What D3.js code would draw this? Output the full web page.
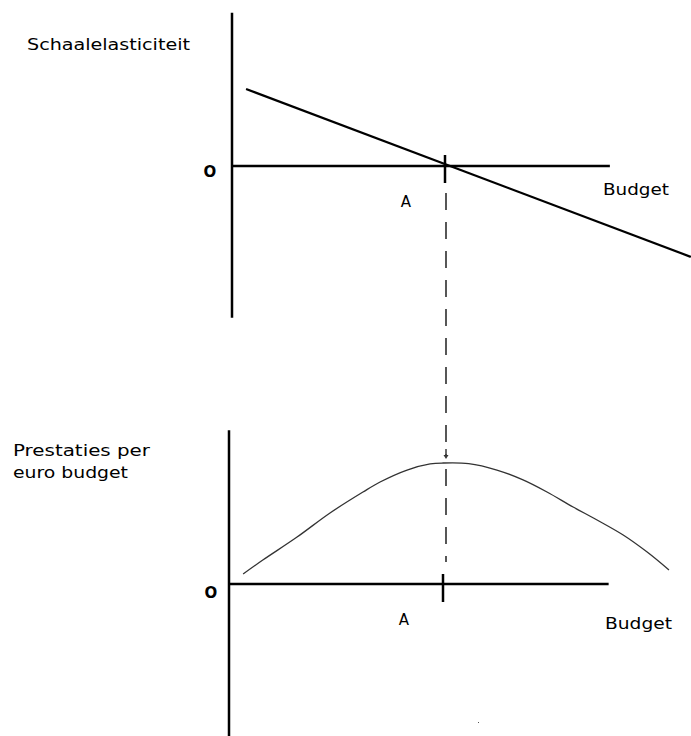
<!DOCTYPE html>
<html>
<head>
<meta charset="utf-8">
<script src="https://cdn.jsdelivr.net/npm/d3@7"></script>
<style>
  html, body { margin: 0; padding: 0; background: #fff; }
  svg { display: block; }
  text { font-family: "DejaVu Sans", sans-serif; fill: #000; }
</style>
</head>
<body>
<svg id="chart" width="691" height="736"></svg>
<script>
// ---- data (budget units: point A = 50) ----
const pointA = 50;
const budgetAxisEnd = 88.7;

// Top panel: scale elasticity, straight falling line
const elasticityBudget = [3.3, 107.7];
const elasticityValues = [1.0, -1.18];

// Bottom panel: performance per euro budget (hump, peak at A)
const perfBudget = [3.3, 7.9, 15.9, 23.6, 31.3, 35.3, 41.6, 47.0, 50.0, 56.0, 62.6, 68.7, 74.3, 80.4, 86.0, 92.1, 97.7, 102.8];
const perfValues = [0.083, 0.198, 0.388, 0.587, 0.760, 0.843, 0.942, 0.992, 1.0, 0.995, 0.942, 0.860, 0.760, 0.636, 0.529, 0.405, 0.264, 0.116];

const labelTopY = "Schaalelasticiteit";
const labelBottomY = ["Prestaties per", "euro budget"];
const labelX = "Budget";
const labelOrigin = "O";
const labelA = "A";

// ---- scales ----
const svg = d3.select("#chart");

const xTop = d3.scaleLinear().domain([0, 50]).range([232, 445]);
const yTop = d3.scaleLinear().domain([0, 1]).range([166, 89]);
const yTopAxisDomain = [1.99, -1.97];

const xBot = d3.scaleLinear().domain([0, 50]).range([229, 443]);
const yBot = d3.scaleLinear().domain([0, 1]).range([584, 463]);
const yBotAxisDomain = [1.27, -1.26];

// ---- top panel ----
const gTop = svg.append("g");
gTop.append("line")
  .attr("x1", xTop(0)).attr("x2", xTop(0))
  .attr("y1", yTop(yTopAxisDomain[0])).attr("y2", yTop(yTopAxisDomain[1]))
  .attr("stroke", "#000").attr("stroke-width", 2.5);
gTop.append("line")
  .attr("x1", xTop(0)).attr("x2", xTop(budgetAxisEnd))
  .attr("y1", yTop(0)).attr("y2", yTop(0))
  .attr("stroke", "#000").attr("stroke-width", 2.5);
gTop.append("line")
  .attr("x1", xTop(pointA)).attr("x2", xTop(pointA))
  .attr("y1", yTop(0) - 11).attr("y2", yTop(0) + 17)
  .attr("stroke", "#000").attr("stroke-width", 2.5);
const lineTop = d3.line().x(d => xTop(d[0])).y(d => yTop(d[1]));
gTop.append("path")
  .datum(d3.zip(elasticityBudget, elasticityValues))
  .attr("d", lineTop)
  .attr("fill", "none").attr("stroke", "#000").attr("stroke-width", 2.2);

gTop.append("text").attr("x", 27).attr("y", 50)
  .attr("font-size", 16).attr("textLength", 163).attr("lengthAdjust", "spacingAndGlyphs")
  .text(labelTopY);
gTop.append("text").attr("x", 210).attr("y", 177)
  .attr("font-size", 15).attr("font-weight", "bold").attr("text-anchor", "middle").text(labelOrigin);
gTop.append("text").attr("x", 406).attr("y", 207)
  .attr("font-size", 15).attr("text-anchor", "middle").text(labelA);
gTop.append("text").attr("x", 603).attr("y", 195)
  .attr("font-size", 15).attr("textLength", 66).attr("lengthAdjust", "spacingAndGlyphs")
  .text(labelX);

// ---- dashed connector (from top axis at A down through the curve peak) ----
const dashX = xTop(pointA) + 1;
const dashSegments = [[193, 455], [469, 562]];
svg.selectAll("line.dash").data(dashSegments).enter().append("line")
  .attr("class", "dash")
  .attr("x1", dashX).attr("x2", dashX)
  .attr("y1", d => d[0]).attr("y2", d => d[1])
  .attr("stroke", "#3a3a3a").attr("stroke-width", 1.7)
  .attr("stroke-dasharray", "17,12");
// small arrowhead touching the curve peak
svg.append("path")
  .attr("d", `M${dashX - 2.5},${yBot(1) - 8} L${dashX + 2.5},${yBot(1) - 8} L${dashX},${yBot(1) - 4} Z`)
  .attr("fill", "#333");
svg.append("line")
  .attr("x1", dashX).attr("x2", dashX)
  .attr("y1", yBot(1) - 14).attr("y2", yBot(1) - 6)
  .attr("stroke", "#3a3a3a").attr("stroke-width", 1.5);

// ---- bottom panel ----
const gBot = svg.append("g");
gBot.append("line")
  .attr("x1", xBot(0)).attr("x2", xBot(0))
  .attr("y1", yBot(yBotAxisDomain[0])).attr("y2", yBot(yBotAxisDomain[1]))
  .attr("stroke", "#000").attr("stroke-width", 2.5);
gBot.append("line")
  .attr("x1", xBot(0)).attr("x2", xBot(budgetAxisEnd))
  .attr("y1", yBot(0)).attr("y2", yBot(0))
  .attr("stroke", "#000").attr("stroke-width", 2.5);
gBot.append("line")
  .attr("x1", xBot(pointA)).attr("x2", xBot(pointA))
  .attr("y1", yBot(0) - 10).attr("y2", yBot(0) + 18)
  .attr("stroke", "#000").attr("stroke-width", 2.5);

const curveBot = d3.line().x(d => xBot(d[0])).y(d => yBot(d[1])).curve(d3.curveCatmullRom.alpha(0.5));
gBot.append("path")
  .datum(d3.zip(perfBudget, perfValues))
  .attr("d", curveBot)
  .attr("fill", "none").attr("stroke", "#333").attr("stroke-width", 1.3);

gBot.selectAll("text.ylab").data(labelBottomY).enter().append("text")
  .attr("class", "ylab")
  .attr("x", 13).attr("y", (d, i) => 456 + i * 22)
  .attr("font-size", 16)
  .attr("textLength", (d, i) => i === 0 ? 137 : 115)
  .attr("lengthAdjust", "spacingAndGlyphs")
  .text(d => d);
gBot.append("text").attr("x", 211).attr("y", 598)
  .attr("font-size", 15).attr("font-weight", "bold").attr("text-anchor", "middle").text(labelOrigin);
gBot.append("text").attr("x", 404).attr("y", 625)
  .attr("font-size", 15).attr("text-anchor", "middle").text(labelA);
gBot.append("text").attr("x", 605).attr("y", 629)
  .attr("font-size", 15).attr("textLength", 67).attr("lengthAdjust", "spacingAndGlyphs")
  .text(labelX);

// small speck seen in the original scan
svg.append("rect").attr("x", 478).attr("y", 722).attr("width", 1).attr("height", 1).attr("fill", "#555");
</script>
</body>
</html>
